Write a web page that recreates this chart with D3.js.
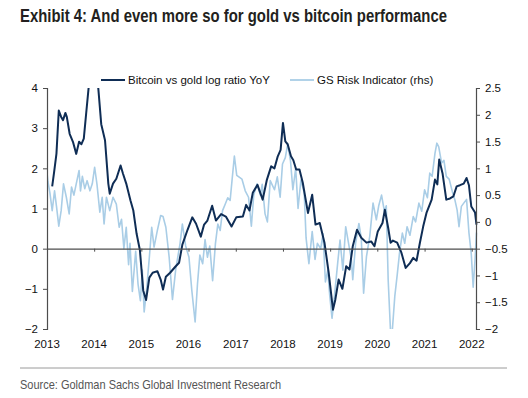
<!DOCTYPE html>
<html lang="en">
  <head>
    <meta charset="utf-8" />
    <title>Gold vs bitcoin performance</title>
    <script src="https://d3js.org/d3.v7.min.js"></script>
    <style type="text/css">
      body {
        margin: 0;
        background: #ffffff;
      }
      text {
        font-family: "Liberation Sans", Arial, sans-serif;
      }
    </style>
  </head>
  <body>
    <script type="text/javascript">
      // Bitcoin vs gold log ratio YoY (left axis), dates as decimal years
      const btcYears = [
        2013.11, 2013.15, 2013.2, 2013.25, 2013.3, 2013.34, 2013.39, 2013.42, 2013.48, 2013.55,
        2013.62, 2013.68, 2013.73, 2013.78, 2013.83, 2013.89, 2013.98, 2014.08, 2014.15, 2014.23,
        2014.3, 2014.33, 2014.4, 2014.47, 2014.56, 2014.61, 2014.68, 2014.77, 2014.83, 2014.9,
        2014.97, 2015.04, 2015.1, 2015.17, 2015.24, 2015.34, 2015.41, 2015.46, 2015.52, 2015.61,
        2015.72, 2015.8, 2015.87, 2015.98, 2016.08, 2016.16, 2016.26, 2016.33, 2016.4, 2016.5,
        2016.58, 2016.69, 2016.79, 2016.91, 2017.01, 2017.15, 2017.22, 2017.29, 2017.36, 2017.46,
        2017.57, 2017.66, 2017.75, 2017.82, 2017.89, 2017.95, 2018.0, 2018.05, 2018.1, 2018.17,
        2018.22, 2018.28, 2018.35, 2018.42, 2018.53, 2018.62, 2018.69, 2018.78, 2018.88, 2018.97,
        2019.06, 2019.11, 2019.18, 2019.26, 2019.34, 2019.41, 2019.48, 2019.57, 2019.66, 2019.77,
        2019.87, 2019.94, 2020.01, 2020.11, 2020.16, 2020.23, 2020.28, 2020.33, 2020.42, 2020.51,
        2020.6, 2020.69, 2020.76, 2020.83, 2020.9, 2020.97, 2021.04, 2021.15, 2021.22, 2021.27,
        2021.31, 2021.38, 2021.46, 2021.54, 2021.61, 2021.68, 2021.75, 2021.83, 2021.89, 2021.94,
        2021.99, 2022.07, 2022.1,
      ];
      const btcValues = [
        1.55, 1.9, 2.36, 3.44, 3.28, 3.2, 3.38, 3.28, 2.86, 2.66,
        2.36, 2.66, 2.6, 2.74, 3.36, 4.1, 5.0, 4.1, 3.1, 2.7,
        1.62, 1.37, 1.62, 1.74, 2.07, 1.87, 1.62, 1.2, 0.95, 0.37,
        -0.04, -1.04, -1.28, -0.72, -0.6, -0.56, -0.77, -1.02, -0.7, -0.6,
        -0.45, -0.35, 0.1, 0.47, 0.78, 0.62, 0.3, 0.6, 0.7, 1.07,
        0.7, 0.86, 0.8, 0.55, 0.78, 0.8, 1.09, 0.95, 1.39, 1.59,
        1.22, 1.72, 2.05, 2.0, 2.3, 2.46, 3.13, 2.67, 2.6, 2.3,
        2.2, 1.97, 1.97, 1.64, 0.89, 1.34, 0.6, 0.64, 0.15, -0.6,
        -1.52, -1.27, -0.77, -1.0, -0.44, -0.52, 0.06, 0.47, 0.27, 0.15,
        0.18, 0.06, 0.43, 0.64, 0.97, 0.52, 0.15, 0.2, 0.15, -0.1,
        -0.48, -0.36, -0.23, -0.3, 0.14, 0.55, 0.89, 1.22, 1.72, 1.6,
        2.22, 1.88, 1.22, 1.25, 1.3, 1.55, 1.58, 1.62, 1.76, 1.58,
        1.05, 0.9, 0.6,
      ];

      // GS Risk Indicator (right axis)
      const riskYears = [
        2013.0, 2013.02, 2013.06, 2013.11, 2013.16, 2013.2, 2013.25, 2013.3, 2013.35, 2013.41,
        2013.47, 2013.52, 2013.57, 2013.62, 2013.68, 2013.71, 2013.75, 2013.8, 2013.85, 2013.91,
        2013.96, 2014.01, 2014.06, 2014.12, 2014.17, 2014.21, 2014.26, 2014.33, 2014.4, 2014.47,
        2014.53, 2014.58, 2014.63, 2014.68, 2014.73, 2014.76, 2014.81, 2014.88, 2014.93, 2014.98,
        2015.02, 2015.06, 2015.11, 2015.17, 2015.22, 2015.27, 2015.34, 2015.41, 2015.46, 2015.52,
        2015.59, 2015.66, 2015.73, 2015.82, 2015.87, 2015.94, 2016.01, 2016.07, 2016.14, 2016.19,
        2016.24, 2016.3, 2016.35, 2016.4, 2016.45, 2016.51, 2016.57, 2016.62, 2016.67, 2016.72,
        2016.78, 2016.83, 2016.88, 2016.92, 2016.97, 2017.02, 2017.08, 2017.13, 2017.2, 2017.27,
        2017.33, 2017.38, 2017.45, 2017.52, 2017.56, 2017.62, 2017.67, 2017.73, 2017.82, 2017.88,
        2017.94, 2017.99, 2018.05, 2018.1, 2018.16, 2018.21, 2018.27, 2018.32, 2018.38, 2018.45,
        2018.49, 2018.55, 2018.62, 2018.68, 2018.73, 2018.8, 2018.85, 2018.9, 2018.95, 2018.99,
        2019.04, 2019.09, 2019.16, 2019.21, 2019.27, 2019.33, 2019.4, 2019.45, 2019.48, 2019.54,
        2019.61, 2019.66, 2019.71, 2019.77, 2019.84, 2019.91, 2019.98, 2020.03, 2020.09, 2020.15,
        2020.19, 2020.23, 2020.28, 2020.32, 2020.37, 2020.42, 2020.47, 2020.53, 2020.58, 2020.63,
        2020.69, 2020.76, 2020.81, 2020.88, 2020.94, 2021.0, 2021.06, 2021.11, 2021.16, 2021.22,
        2021.26, 2021.3, 2021.36, 2021.41, 2021.46, 2021.52, 2021.59, 2021.64, 2021.69, 2021.73,
        2021.78, 2021.83, 2021.89, 2021.94, 2021.99, 2022.03, 2022.07, 2022.1,
      ];
      const riskValues = [
        0.92, 0.75, 0.55, 0.21, 0.58, 0.3, -0.08, 0.21, 0.71, 0.46,
        0.15, 0.65, 0.5, 0.71, 0.96, 0.58, 0.85, 0.62, 0.77, 0.58,
        0.71, 1.02, 0.7, 0.18, 0.46, -0.04, 0.46, 0.21, 0.46, 0.33,
        -0.1, 0.05, -0.5, -0.1, -0.8, -0.4, -1.3, -0.55, -1.16, -1.47,
        -0.9, -1.68, -1.28, -0.66, -0.1, -0.47, -0.16, 0.12, 0.1, -0.1,
        -0.66, -1.45, -0.88, -0.41, -0.04, -0.45, -0.66, -1.28, -1.87, -1.16,
        -0.62, -0.78, -0.33, -0.66, -0.45, -1.1, -0.4, -0.04, -0.16, 0.21,
        0.34, 0.45, 0.4, 0.77, 1.23, 0.87, 0.83, 0.8, 0.58, 0.46,
        -0.08, 0.5, 0.71, 0.5, 0.7, 0.15, 0.0, 0.77, 0.6, 0.84,
        0.46, 1.08, 1.2, 1.45, 1.14, 0.6, 1.0, 0.25, 0.78, 0.55,
        -0.3, -0.78, -0.18, -0.7, -0.4, -0.5, -0.22, -1.12, -0.9, -1.36,
        -1.8, -1.4, -0.77, -0.34, -0.9, -0.09, -0.45, -0.7, -1.08, -0.4,
        -0.03, -0.3, -1.33, -0.65, -0.27, 0.35, 0.04, 0.3, 0.5, 0.2,
        0.3, -1.08, -2.05, -2.0, -1.39, -1.0, -0.58, -0.21, -0.4, -0.09,
        -0.25, 0.1, 0.0, 0.35, 0.2, 0.6, 0.45, 0.91, 0.85, 1.28,
        1.47, 1.4, 1.1, 1.15, 0.85, 0.8, 0.56, 0.42, 0.22, -0.09,
        0.29, 0.35, 0.42, -0.2, -0.6, -1.22, -0.7, -0.2,
      ];

      const yearTicks = [2013, 2014, 2015, 2016, 2017, 2018, 2019, 2020, 2021, 2022];
      const leftTicks = [4, 3, 2, 1, 0, -1, -2];
      const rightTicks = [2.5, 2, 1.5, 1, 0.5, 0, -0.5, -1, -1.5, -2];

      const title = "Exhibit 4: And even more so for gold vs bitcoin performance";
      const legendLabels = ["Bitcoin vs gold log ratio YoY", "GS Risk Indicator (rhs)"];
      const source = "Source: Goldman Sachs Global Investment Research";

      //Width and height
      const w = 528;
      const h = 398;
      const plot = { left: 47, right: 476, top: 88, bottom: 329 };

      const darkBlue = "#0f2d55";
      const lightBlue = "#a9cde6";
      const axisGrey = "#4d4d4d";

      // decimal year -> Date
      const toDate = function (y) {
        const yr = Math.floor(y);
        const start = new Date(yr, 0, 1);
        const end = new Date(yr + 1, 0, 1);
        return new Date(start.getTime() + (y - yr) * (end - start));
      };

      const btcData = btcYears.map(function (y, i) {
        return { date: toDate(y), value: btcValues[i] };
      });
      const riskData = riskYears.map(function (y, i) {
        return { date: toDate(y), value: riskValues[i] };
      });

      const xScale = d3
        .scaleTime()
        .domain([toDate(2013), toDate(2022.09)])
        .range([plot.left, plot.right]);

      const yLeft = d3.scaleLinear().domain([-2, 4]).range([plot.bottom, plot.top]);
      const yRight = d3.scaleLinear().domain([-2, 2.5]).range([plot.bottom, plot.top]);

      //Create SVG element
      const svg = d3.select("body").append("svg").attr("width", w).attr("height", h);

      svg.append("rect").attr("width", w).attr("height", h).attr("fill", "#ffffff");

      // Title (condensed face is not installed, so squeeze it)
      svg
        .append("text")
        .attr("x", 20)
        .attr("y", 22)
        .attr("font-size", 17.5)
        .attr("font-weight", "bold")
        .attr("fill", "#231f20")
        .attr("textLength", 427)
        .attr("lengthAdjust", "spacingAndGlyphs")
        .text(title);

      svg
        .append("defs")
        .append("clipPath")
        .attr("id", "plotClip")
        .append("rect")
        .attr("x", plot.left)
        .attr("y", plot.top)
        .attr("width", plot.right - plot.left + 3)
        .attr("height", plot.bottom - plot.top);

      // Series
      const riskLine = d3
        .line()
        .x(function (d) {
          return xScale(d.date);
        })
        .y(function (d) {
          return yRight(d.value);
        });

      const btcLine = d3
        .line()
        .x(function (d) {
          return xScale(d.date);
        })
        .y(function (d) {
          return yLeft(d.value);
        });

      const lines = svg.append("g").attr("clip-path", "url(#plotClip)");

      lines
        .append("path")
        .datum(riskData)
        .attr("d", riskLine)
        .attr("fill", "none")
        .attr("stroke", lightBlue)
        .attr("stroke-width", 1.6)
        .attr("stroke-linejoin", "round");

      // zero line of the left axis, with year ticks
      const xAxis = svg
        .append("g")
        .attr("transform", "translate(0," + yLeft(0) + ")")
        .call(
          d3
            .axisBottom(xScale)
            .tickValues(yearTicks.map(toDate))
            .tickSize(3)
            .tickFormat("")
            .tickSizeOuter(0)
        );
      xAxis.select(".domain").attr("stroke", axisGrey).attr("stroke-width", 1.2);
      xAxis.selectAll(".tick line").attr("stroke", axisGrey);

      lines
        .append("path")
        .datum(btcData)
        .attr("d", btcLine)
        .attr("fill", "none")
        .attr("stroke", darkBlue)
        .attr("stroke-width", 2)
        .attr("stroke-linejoin", "round");

      // Left axis
      const leftAxis = svg
        .append("g")
        .attr("transform", "translate(" + plot.left + ",0)")
        .call(
          d3
            .axisLeft(yLeft)
            .tickValues(leftTicks)
            .tickSize(4)
            .tickSizeOuter(4)
            .tickPadding(5)
            .tickFormat(d3.format("d"))
        );

      // Right axis
      const rightAxis = svg
        .append("g")
        .attr("transform", "translate(" + plot.right + ",0)")
        .call(
          d3
            .axisRight(yRight)
            .tickValues(rightTicks)
            .tickSize(4)
            .tickSizeOuter(4)
            .tickPadding(5)
            .tickFormat(d3.format("~g"))
        );

      [leftAxis, rightAxis].forEach(function (a) {
        a.select(".domain").attr("stroke", axisGrey).attr("stroke-width", 1.2);
        a.selectAll(".tick line").attr("stroke", axisGrey);
        a.selectAll("text")
          .attr("font-family", "'Liberation Sans', Arial, sans-serif")
          .attr("font-size", 11.5)
          .attr("fill", "#111");
      });

      // Year labels
      svg
        .append("g")
        .selectAll("text")
        .data(yearTicks)
        .enter()
        .append("text")
        .attr("x", function (d) {
          return xScale(toDate(d));
        })
        .attr("y", 348)
        .attr("text-anchor", "middle")
        .attr("font-size", 11.5)
        .attr("fill", "#111")
        .text(function (d) {
          return d;
        });

      // Legend
      const legend = svg.append("g");
      const legendX = [101, 290];
      const legendColors = [darkBlue, lightBlue];
      legendLabels.forEach(function (label, i) {
        legend
          .append("line")
          .attr("x1", legendX[i])
          .attr("x2", legendX[i] + 24)
          .attr("y1", 80)
          .attr("y2", 80)
          .attr("stroke", legendColors[i])
          .attr("stroke-width", i === 0 ? 2 : 1.8);
        legend
          .append("text")
          .attr("x", legendX[i] + 27)
          .attr("y", 84)
          .attr("font-size", 11.5)
          .attr("fill", "#111")
          .text(label);
      });

      // Footer
      svg
        .append("line")
        .attr("x1", 20)
        .attr("x2", 507)
        .attr("y1", 368)
        .attr("y2", 368)
        .attr("stroke", "#9a9a9a")
        .attr("stroke-width", 1);

      svg
        .append("text")
        .attr("x", 20)
        .attr("y", 389)
        .attr("font-size", 13)
        .attr("fill", "#555")
        .attr("textLength", 261)
        .attr("lengthAdjust", "spacingAndGlyphs")
        .text(source);
    </script>
  </body>
</html>
